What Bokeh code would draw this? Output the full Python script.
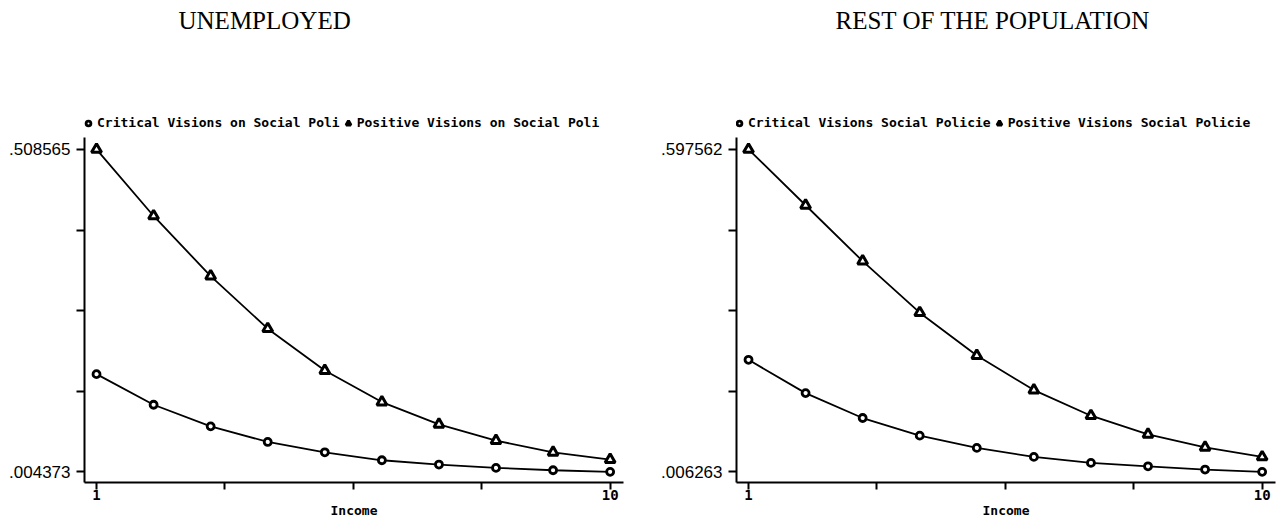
from bokeh.plotting import figure
from bokeh.layouts import row, column
from bokeh.models import (Range1d, FixedTicker, CustomJSTickFormatter, Legend,
                          LegendItem, Label)
from bokeh.embed import file_html
from bokeh.resources import INLINE

income = [1, 2, 3, 4, 5, 6, 7, 8, 9, 10]

unemp_critical = [0.1572, 0.1093, 0.0755, 0.0512, 0.0349, 0.0225, 0.0158, 0.0106, 0.0069, 0.004373]
unemp_positive = [0.508565, 0.4045, 0.3105, 0.2283, 0.1628, 0.1135, 0.0786, 0.0532, 0.0349, 0.0236]

rest_critical = [0.2117, 0.1507, 0.1050, 0.0727, 0.0502, 0.0337, 0.0227, 0.0165, 0.0105, 0.006263]
rest_positive = [0.597562, 0.4952, 0.3927, 0.2982, 0.2195, 0.1562, 0.1092, 0.0750, 0.0513, 0.0337]

titles = ["UNEMPLOYED", "REST OF THE POPULATION"]
legend_labels = [
    ["Critical Visions on Social Poli", "Positive Visions on Social Poli"],
    ["Critical Visions Social Policie", "Positive Visions Social Policie"],
]
x_label = "Income"

MONO = "DejaVu Sans Mono"
HEADER_H = 137
MAIN_H = 383

CIRCLE_STYLE = dict(marker="circle", size=7, fill_color="white", line_color="black", line_width=2.8)
TRI_STYLE = dict(marker="triangle", size=10, fill_color="white", line_color="black", line_width=3)


def stata_fmt(v):
    s = f"{v:.6f}"
    return s[1:] if s.startswith("0") else s


def endpoint_formatter(lo, hi, lo_l, hi_l):
    return CustomJSTickFormatter(
        args=dict(lo=lo, hi=hi, lo_l=lo_l, hi_l=hi_l),
        code="if (Math.abs(tick-hi) < 1e-9) {return hi_l}; "
             "if (Math.abs(tick-lo) < 1e-9) {return lo_l}; return '';")


def header(title, labels, crit, pos, width, bl, br, title_x, legend_x):
    fw = width - bl - br
    h = figure(width=width, height=HEADER_H, output_backend="svg", toolbar_location=None,
               x_range=Range1d(0, fw), y_range=Range1d(0, HEADER_H),
               x_axis_type=None, y_axis_type=None,
               min_border_left=bl, min_border_right=br, min_border_top=0, min_border_bottom=0)
    h.xgrid.visible = False
    h.ygrid.visible = False
    h.outline_line_color = None
    # hidden style renderers that only provide the legend keys
    rc = h.scatter(x=income[:1], y=crit[:1], visible=False, **CIRCLE_STYLE)
    rt = h.scatter(x=income[:1], y=pos[:1], visible=False, **TRI_STYLE)
    leg = Legend(items=[LegendItem(label=labels[0], renderers=[rc]),
                        LegendItem(label=labels[1], renderers=[rt])],
                 orientation="horizontal", location=(legend_x, 7), margin=0, padding=0,
                 spacing=2, glyph_width=12, glyph_height=12, label_standoff=3,
                 label_height=12,
                 label_text_font=MONO, label_text_font_style="bold",
                 label_text_font_size="13px", label_text_color="black",
                 border_line_color=None, background_fill_alpha=0)
    h.add_layout(leg, "center")
    h.add_layout(Label(x=title_x, y=HEADER_H - 19.5, text=title, text_align="left",
                       text_baseline="middle", text_font="Liberation Serif",
                       text_font_size="25px", text_color="black"))
    return h


def panel(crit, pos, width, bl, br):
    ymin = min(crit + pos)
    ymax = max(crit + pos)
    span = ymax - ymin
    xmin, xmax = min(income), max(income)
    xs = xmax - xmin
    p = figure(width=width, height=MAIN_H, output_backend="svg", toolbar_location=None,
               x_range=Range1d(xmin - 0.0234 * xs, xmax + 0.026 * xs),
               y_range=Range1d(ymin - 0.033 * span, ymax + 0.037 * span),
               min_border_left=bl, min_border_right=br,
               min_border_top=0, min_border_bottom=37)
    p.xgrid.visible = False
    p.ygrid.visible = False
    p.outline_line_color = None

    p.line(income, crit, color="black", line_width=1.8)
    p.scatter(income, crit, **CIRCLE_STYLE)
    p.line(income, pos, color="black", line_width=1.8)
    p.scatter(income, pos, **TRI_STYLE)

    yticks = [ymin + i * span / 4 for i in range(5)]
    xticks = [xmin + i * xs / 4 for i in range(5)]
    p.yaxis.ticker = FixedTicker(ticks=yticks)
    p.xaxis.ticker = FixedTicker(ticks=xticks)
    p.yaxis.formatter = endpoint_formatter(ymin, ymax, stata_fmt(ymin), stata_fmt(ymax))
    p.xaxis.formatter = endpoint_formatter(xmin, xmax, str(xmin), str(xmax))

    for ax in (p.xaxis[0], p.yaxis[0]):
        ax.axis_line_width = 2
        ax.axis_line_color = "black"
        ax.major_tick_line_width = 2
        ax.major_tick_line_color = "black"
        ax.major_tick_in = 0
        ax.minor_tick_line_color = None
    p.yaxis.major_tick_out = 8
    p.yaxis.major_label_standoff = 6
    p.yaxis.major_label_text_font = "Liberation Sans"
    p.yaxis.major_label_text_font_size = "17px"
    p.yaxis.major_label_text_color = "black"

    p.xaxis.major_tick_out = 7
    p.xaxis.major_label_standoff = 0
    p.xaxis.major_label_text_font = MONO
    p.xaxis.major_label_text_font_style = "bold"
    p.xaxis.major_label_text_font_size = "14px"
    p.xaxis.major_label_text_color = "black"
    p.xaxis.axis_label = x_label
    p.xaxis.axis_label_standoff = 0
    p.xaxis.axis_label_text_font = MONO
    p.xaxis.axis_label_text_font_style = "bold"
    p.xaxis.axis_label_text_font_size = "13px"
    p.xaxis.axis_label_text_color = "black"
    return p


h1 = header(titles[0], legend_labels[0], unemp_critical, unemp_positive, 640, 84, 17, 94, -2)
p1 = panel(unemp_critical, unemp_positive, 640, 84, 17)
h2 = header(titles[1], legend_labels[1], rest_critical, rest_positive, 644, 96, 9, 99, -3)
p2 = panel(rest_critical, rest_positive, 644, 96, 9)

layout = row(column(h1, p1), column(h2, p2))
open("out.html", "w").write(file_html(layout, INLINE))
